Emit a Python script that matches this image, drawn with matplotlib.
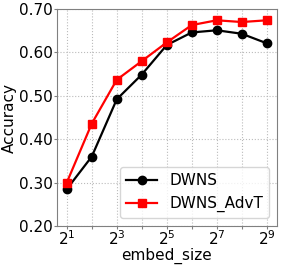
import matplotlib
matplotlib.use('Agg')
import matplotlib.pyplot as plt
import numpy as np

embed_size = [2, 4, 8, 16, 32, 64, 128, 256, 512]
acc_dwns = [0.285, 0.360, 0.492, 0.549, 0.617, 0.646, 0.651, 0.643, 0.621]
acc_advt = [0.300, 0.436, 0.537, 0.580, 0.623, 0.663, 0.674, 0.670, 0.674]
y_ticks = [0.20, 0.30, 0.40, 0.50, 0.60, 0.70]

fig = plt.figure(figsize=(2.81, 2.65), dpi=100)
ax = fig.add_axes([0.202, 0.147, 0.783, 0.819])

ax.plot(embed_size, acc_dwns, color='black', marker='o', markersize=6,
        linewidth=1.6, label='DWNS')
ax.plot(embed_size, acc_advt, color='red', marker='s', markersize=6,
        linewidth=1.6, label='DWNS_AdvT')

ax.set_xscale('log', base=2)
ax.set_xlim(2 ** 0.6, 2 ** 9.4)
ax.set_ylim(0.2, 0.7)
ax.set_xticks(embed_size)
ax.set_xticklabels(['$2^{%d}$' % int(np.log2(v)) if int(np.log2(v)) % 2 == 1 else ''
                    for v in embed_size])
ax.minorticks_off()
ax.set_yticks(y_ticks)
ax.set_yticklabels(['%.2f' % v for v in y_ticks])
ax.tick_params(labelsize=11, length=2, pad=1, color='gray')
ax.tick_params(axis='x', pad=0)

ax.grid(True, linestyle=':', color='#bbbbbb', linewidth=0.8)
for s in ax.spines.values():
    s.set_color('gray')

ax.set_xlabel('embed_size', fontsize=11, labelpad=0)
ax.set_ylabel('Accuracy', fontsize=11, labelpad=1)
ax.legend(loc='lower right', fontsize=11)

fig.savefig('out.png', dpi=100)
